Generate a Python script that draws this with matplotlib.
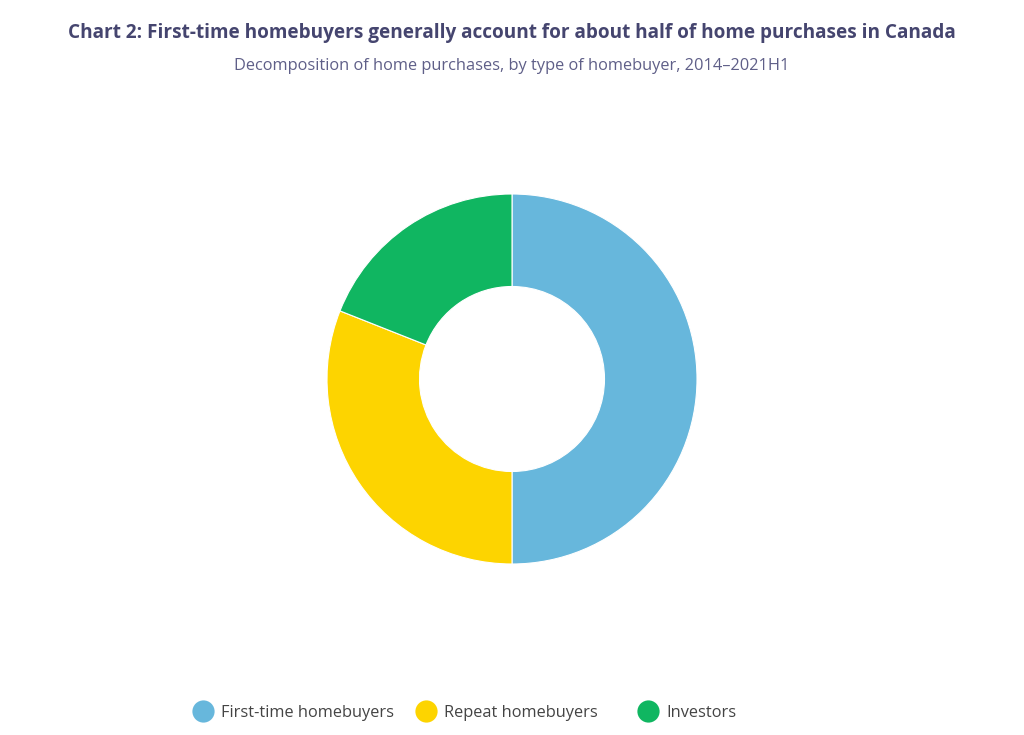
import matplotlib
matplotlib.use("Agg")
import matplotlib.pyplot as plt
from matplotlib.lines import Line2D

labels = ["First-time homebuyers", "Repeat homebuyers", "Investors"]
shares = [50, 31, 19]
colors = ["#67b7dc", "#fdd400", "#10b661"]

plt.rcParams["font.family"] = ["Open Sans", "DejaVu Sans"]

W, H = 1024, 735
fig = plt.figure(figsize=(W / 100, H / 100), dpi=100)
fig.patch.set_facecolor("white")

fig.text(512 / W, 1 - 33 / H, "Chart 2: First-time homebuyers generally account for about half of home purchases in Canada",
         ha="center", va="center", fontsize=13.7, fontweight="bold", color="#45456f")
fig.text(512 / W, 1 - 66 / H, "Decomposition of home purchases, by type of homebuyer, 2014\u20132021H1",
         ha="center", va="center", fontsize=11.8, color="#5f5f88")

# donut
cx, cy, r = 512, 379, 185
ax = fig.add_axes([(cx - r) / W, 1 - (cy + r) / H, 2 * r / W, 2 * r / H])
ax.pie(shares, colors=colors, startangle=90, counterclock=False, radius=1,
       wedgeprops=dict(width=0.5, edgecolor="white", linewidth=0.8))
ax.set_xlim(-1, 1)
ax.set_ylim(-1, 1)
ax.set_aspect("equal")
ax.axis("off")

# legend
ly = 1 - 711 / H
for x0, lab, col in zip([203, 426, 648], labels, colors):
    fig.add_artist(Line2D([x0 / W], [ly], marker="o", markersize=16, color=col,
                          markeredgewidth=0, transform=fig.transFigure))
    fig.text((x0 + 18) / W, ly - 2 / H, lab, ha="left", va="center", fontsize=11.8, color="#444444")

fig.savefig("out.png", dpi=100)
